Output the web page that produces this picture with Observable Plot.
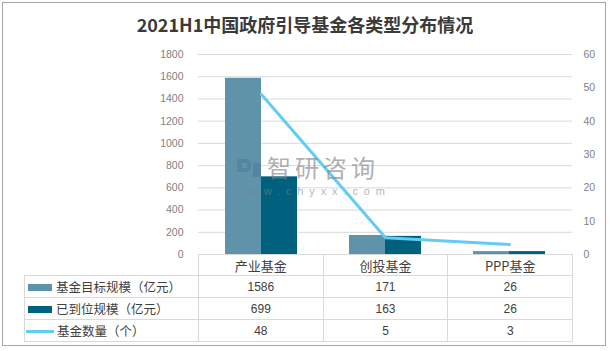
<!DOCTYPE html>
<html>
<head>
<meta charset="utf-8">
<script src="https://cdn.jsdelivr.net/npm/d3@7"></script>
<script src="https://cdn.jsdelivr.net/npm/@observablehq/plot@0.6"></script>
<style>
  html, body { margin: 0; padding: 0; background: #fff; }
  #wrap { position: relative; width: 610px; height: 351px; overflow: hidden; font-family: "Noto Sans CJK SC", "Liberation Sans", sans-serif; }
  #frame { position: absolute; left: 2px; top: 2px; width: 604px; height: 344px; border: 1px solid #a6a6a6; box-sizing: border-box; }
  #title { position: absolute; left: 0; top: 12px; width: 610px; text-align: center; font-size: 18px; font-weight: bold; color: #3a3a3a; line-height: 24px; }
  #chart { position: absolute; left: 0; top: 0; }
  #wm1 { position: absolute; left: 267px; top: 155px; font-size: 24px; letter-spacing: 4px; color: rgba(130,130,130,0.65); line-height: 24px; }
  #wm2 { position: absolute; left: 236px; top: 185px; font-family: "Liberation Sans", sans-serif; font-size: 11px; letter-spacing: 5.9px; color: rgba(120,130,140,0.6); line-height: 12px; }
  #wmicon { position: absolute; left: 237px; top: 159px; width: 14px; height: 13px; border: 4px solid rgba(70,110,150,0.35); border-left-width: 5px; border-radius: 1px 5px 5px 1px; box-sizing: border-box; }
  #wmicon2 { position: absolute; left: 253px; top: 163px; width: 8px; height: 14px; background: rgba(70,110,150,0.35); }
  table { position: absolute; left: 24px; top: 254px; border-collapse: collapse; table-layout: fixed; font-size: 12.5px; color: #404040; }
  td { border: 1px solid #d9d9d9; padding: 0; text-align: center; white-space: nowrap; overflow: hidden; }
  td.blank { border-top: none; border-left: none; }
  td.lab { text-align: left; padding-left: 3px; }
  .sw { display: inline-block; width: 24px; height: 7px; vertical-align: middle; margin-right: 4px; position: relative; top: -1px; }
  .swl { display: inline-block; width: 28px; height: 3px; vertical-align: middle; margin-right: 3px; margin-left: -2px; position: relative; top: -1px; }
  td.num { font-family: "Liberation Sans", sans-serif; font-size: 12px; }
  tr.head td { font-size: 13px; }
</style>
</head>
<body>
<div id="wrap">
  <div id="frame"></div>
  <div id="title">2021H1中国政府引导基金各类型分布情况</div>
  <div id="chart"></div>
  <div id="wmicon"></div>
  <div id="wmicon2"></div>
  <div id="wm1">智研咨询</div>
  <div id="wm2">www.chyxx.com</div>
  <table id="tbl"></table>
</div>
<script>
// Data
const categories = ["产业基金", "创投基金", "PPP基金"];
const targetScale = [1586, 171, 26];   // 基金目标规模（亿元）
const actualScale = [699, 163, 26];    // 已到位规模（亿元）
const fundCount = [48, 5, 3];          // 基金数量（个）
const seriesNames = ["基金目标规模（亿元）", "已到位规模（亿元）", "基金数量（个）"];
const leftTicks = [0, 200, 400, 600, 800, 1000, 1200, 1400, 1600, 1800];
const rightTicks = [0, 10, 20, 30, 40, 50, 60];
const colors = ["#5f93aa", "#00617f", "#62ccf5"];

const ratio = 1800 / 60; // right axis mapped onto left axis
const rows = categories.map((c, i) => ({cat: c, target: targetScale[i], actual: actualScale[i], count: fundCount[i]}));

const chart = Plot.plot({
  width: 610,
  height: 268,
  marginLeft: 198,
  marginRight: 38,
  marginTop: 54,
  marginBottom: 14,
  style: {fontFamily: "'Liberation Sans', sans-serif", fontSize: "10.5px", background: "transparent"},
  x: {type: "band", domain: categories, paddingInner: 0.7115, paddingOuter: 0.3558, axis: null},
  y: {domain: [0, 1800], axis: null},
  marks: [
    Plot.ruleY(leftTicks.filter(d => d > 0), {stroke: "#d9d9d9", strokeWidth: 1}),
    Plot.axisY({anchor: "left", ticks: leftTicks, tickFormat: d => String(d), tickSize: 0, tickPadding: 15, label: null, color: "#7f7f7f"}),
    Plot.axisY({anchor: "right", ticks: rightTicks.map(d => d * ratio), tickFormat: d => String(d / ratio), tickSize: 0, tickPadding: 11, label: null, color: "#7f7f7f"}),
    Plot.barY(rows, {x: "cat", y: "target", fill: colors[0], dx: -18}),
    Plot.barY(rows, {x: "cat", y: "actual", fill: colors[1], dx: 18}),
    Plot.line(rows, {x: "cat", y: d => d.count * ratio, stroke: colors[2], strokeWidth: 3})
  ]
});
document.getElementById("chart").appendChild(chart);

// Data table
const tbl = document.getElementById("tbl");
const colW = [174, 124.7, 124.7, 124.7];
const cg = document.createElement("colgroup");
colW.forEach(w => { const c = document.createElement("col"); c.style.width = w + "px"; cg.appendChild(c); });
tbl.appendChild(cg);
const head = document.createElement("tr");
head.className = "head";
head.style.height = "21px";
head.innerHTML = `<td class="blank"></td>` + categories.map(c => `<td>${c}</td>`).join("");
tbl.appendChild(head);
const vals = [targetScale, actualScale, fundCount];
vals.forEach((arr, k) => {
  const tr = document.createElement("tr");
  tr.style.height = "22px";
  const sw = k < 2 ? `<span class="sw" style="background:${colors[k]}"></span>` : `<span class="swl" style="background:${colors[k]}"></span>`;
  tr.innerHTML = `<td class="lab">${sw}${seriesNames[k]}</td>` + arr.map(v => `<td class="num">${v}</td>`).join("");
  tbl.appendChild(tr);
});
</script>
</body>
</html>
